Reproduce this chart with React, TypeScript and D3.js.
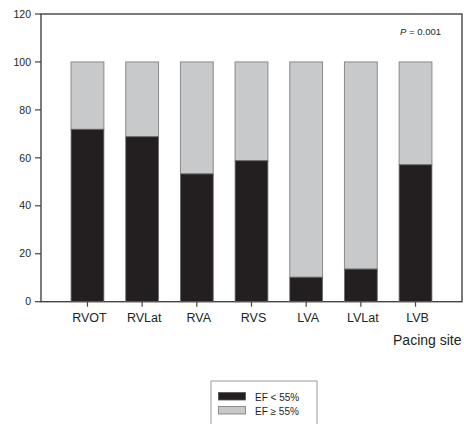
import React from "react";
import * as d3 from "d3";

const categories = ["RVOT", "RVLat", "RVA", "RVS", "LVA", "LVLat", "LVB"];
const efLow = [71.9, 68.8, 53.3, 58.8, 10.2, 13.6, 57.1];
const yTicks = [0, 20, 40, 60, 80, 100, 120];
const seriesNames = ["EF < 55%", "EF \u2265 55%"];

const W = 464;
const H = 424;
const left = 41;
const right = 462;
const top = 14;
const bottom = 301.7;
const font = "Liberation Sans, Arial, sans-serif";
const darkColor = "#231f20";
const lightColor = "#c8c9cb";
const textColor = "#231f20";

export default function App() {
  const x = d3
    .scaleBand<string>()
    .domain(categories)
    .range([left, right])
    .paddingInner(0.4)
    .paddingOuter(0.55);
  const y = d3.scaleLinear().domain([0, 120]).range([bottom, top]);
  const bw = x.bandwidth();

  return (
    <svg
      width={W}
      height={H}
      style={{ position: "absolute", left: 0, top: 0, background: "#fff" }}
      fontFamily={font}
    >
      {/* frame */}
      <rect
        x={left}
        y={top}
        width={right - left}
        height={bottom - top}
        fill="none"
        stroke="#444"
        strokeWidth={1.4}
      />
      {/* bars */}
      {categories.map((c, i) => {
        const x0 = x(c)!;
        return (
          <g key={c}>
            <rect
              x={x0}
              y={y(100)}
              width={bw}
              height={y(efLow[i]) - y(100)}
              fill={lightColor}
              stroke="#8a8a8a"
              strokeWidth={1}
            />
            <rect
              x={x0}
              y={y(efLow[i])}
              width={bw}
              height={y(0) - y(efLow[i])}
              fill={darkColor}
              stroke="#6a6a6a"
              strokeWidth={0.8}
            />
          </g>
        );
      })}
      {/* y ticks */}
      {yTicks.map((t) => (
        <g key={t}>
          <line x1={left - 6} x2={left} y1={y(t)} y2={y(t)} stroke="#444" strokeWidth={1.2} />
          <text
            x={left - 10}
            y={y(t)}
            dy="0.35em"
            textAnchor="end"
            fontSize={10.5}
            fill={textColor}
          >
            {t}
          </text>
        </g>
      ))}
      {/* x ticks */}
      {categories.map((c) => {
        const cx = x(c)! + bw / 2;
        return (
          <g key={c}>
            <line x1={cx} x2={cx} y1={bottom} y2={bottom + 5} stroke="#444" strokeWidth={1.2} />
            <text
              x={cx + 2}
              y={322}
              textAnchor="middle"
              fontSize={12.5}
              fill={textColor}
            >
              {c}
            </text>
          </g>
        );
      })}
      <text x={461.5} y={344.5} textAnchor="end" fontSize={14} fill={textColor}>
        Pacing site
      </text>
      <text x={441} y={34.5} textAnchor="end" fontSize={9.5} fill={textColor}>
        <tspan fontStyle="italic">P</tspan> = 0.001
      </text>
      {/* legend */}
      <rect x={211} y={381} width={106} height={50} fill="#fff" stroke="#9a9a9a" />
      <rect x={218.5} y={392.5} width={27} height={7.5} fill={darkColor} stroke="#555" strokeWidth={0.8} />
      <rect x={218.5} y={406.5} width={27} height={7.5} fill={lightColor} stroke="#777" strokeWidth={0.8} />
      <text x={255} y={401} fontSize={10} fill={textColor}>
        {seriesNames[0]}
      </text>
      <text x={255} y={414.5} fontSize={10} fill={textColor}>
        {seriesNames[1]}
      </text>
    </svg>
  );
}
